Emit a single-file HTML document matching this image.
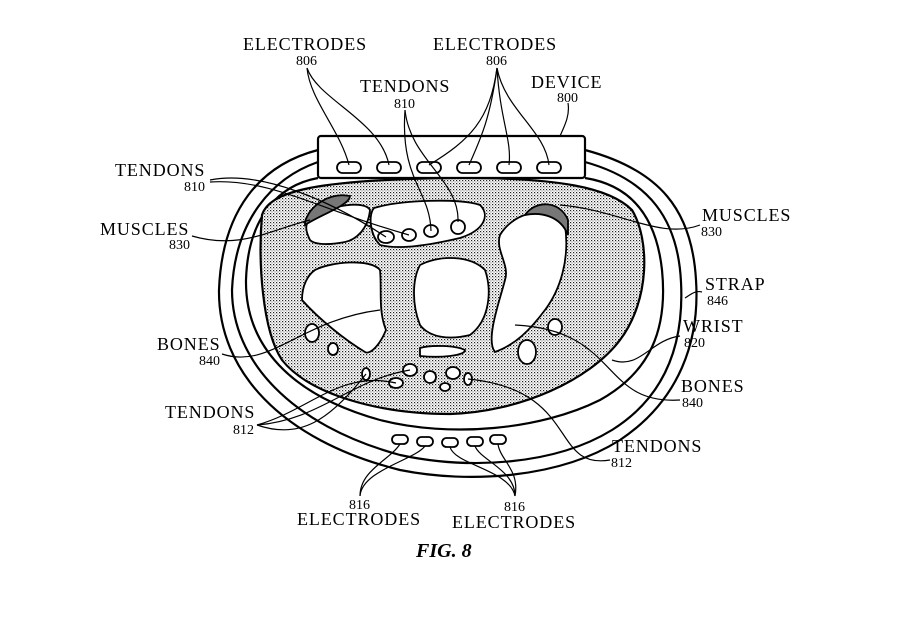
<!DOCTYPE html>
<html><head><meta charset="utf-8"><style>
html,body{margin:0;padding:0;background:#fff;}
svg{display:block;}
text{font-family:"Liberation Serif",serif;fill:#000;}
.w{font-size:18px;letter-spacing:0.9px;}
.n{font-size:14px;}
</style></head><body>
<svg width="905" height="619" viewBox="0 0 905 619" xmlns="http://www.w3.org/2000/svg">
<defs>
<pattern id="st" width="3" height="3" patternUnits="userSpaceOnUse">
<rect width="3" height="3" fill="#fff"/>
<rect x="0" y="0" width="1.2" height="1.2" fill="#222"/>
<rect x="1.5" y="1.5" width="1" height="1" fill="#555"/>
</pattern>
</defs>
<g fill="none" stroke="#000" stroke-width="2.2">
<path d="M318,150 C260,165 222,210 219,290 C218,370 280,440 400,470 C470,484 560,478 620,440 C680,400 700,340 696,280 C692,210 660,170 585,150"/>
<path d="M318,162 C272,178 235,220 232,290 C232,360 290,425 400,455 C470,470 555,465 612,430 C668,395 684,340 681,282 C678,220 650,180 585,162"/>
<path d="M318,178 C280,185 248,215 246,280 C245,345 290,395 380,420 C450,438 540,430 600,400 C650,372 668,330 662,270 C656,215 630,185 585,178"/>
<path fill="url(#st)" d="M262,215 C270,190 320,180 450,178 C560,177 610,188 632,210 C650,240 650,300 620,340 C590,380 520,412 450,414 C380,414 310,395 282,360 C262,330 258,260 262,215 Z"/>
<rect x="318" y="136" width="267" height="42" rx="3" fill="#fff"/>
<g stroke-width="1.8">
<rect x="337" y="162" width="24" height="11" rx="5.5"/>
<rect x="377" y="162" width="24" height="11" rx="5.5"/>
<rect x="417" y="162" width="24" height="11" rx="5.5"/>
<rect x="457" y="162" width="24" height="11" rx="5.5"/>
<rect x="497" y="162" width="24" height="11" rx="5.5"/>
<rect x="537" y="162" width="24" height="11" rx="5.5"/>
<rect x="392" y="435" width="16" height="9" rx="4.5"/>
<rect x="417" y="437" width="16" height="9" rx="4.5"/>
<rect x="442" y="438" width="16" height="9" rx="4.5"/>
<rect x="467" y="437" width="16" height="9" rx="4.5"/>
<rect x="490" y="435" width="16" height="9" rx="4.5"/>
</g>
<g fill="#fff" stroke-width="1.8">
<path d="M374,208 C400,200 460,198 480,205 C490,215 485,230 460,238 C430,245 400,250 380,245 C370,235 368,215 374,208 Z"/>
<path d="M310,218 C330,205 365,200 370,210 C368,230 355,240 345,242 C330,245 315,245 310,240 C305,230 305,225 310,218 Z"/>
<path d="M315,270 C330,262 370,258 380,270 C382,290 378,310 386,330 C380,345 370,355 365,352 C345,340 320,320 302,300 C302,285 308,275 315,270 Z"/>
<path d="M420,265 C440,255 470,255 485,270 C492,290 490,320 470,335 C450,340 430,338 420,325 C412,305 412,280 420,265 Z"/>
<path d="M500,235 C515,210 550,205 565,225 C570,260 560,290 545,310 C530,330 515,345 495,352 C485,340 500,300 505,280 C510,265 495,250 500,235 Z"/>
<path d="M420,348 C430,345 455,345 465,350 C465,356 440,358 420,356 Z"/>
<ellipse cx="312" cy="333" rx="7" ry="9"/>
<ellipse cx="333" cy="349" rx="5" ry="6"/>
<ellipse cx="527" cy="352" rx="9" ry="12"/>
<ellipse cx="555" cy="327" rx="7" ry="8"/>
<ellipse cx="366" cy="374" rx="4" ry="6"/>
<ellipse cx="410" cy="370" rx="7" ry="6"/>
<ellipse cx="396" cy="383" rx="7" ry="5"/>
<ellipse cx="430" cy="377" rx="6" ry="6"/>
<ellipse cx="453" cy="373" rx="7" ry="6"/>
<ellipse cx="445" cy="387" rx="5" ry="4"/>
<ellipse cx="468" cy="379" rx="4" ry="6"/>
<ellipse cx="386" cy="237" rx="8" ry="6"/>
<ellipse cx="409" cy="235" rx="7" ry="6"/>
<ellipse cx="431" cy="231" rx="7" ry="6"/>
<ellipse cx="458" cy="227" rx="7" ry="7"/>
<path d="M305,222 C310,205 330,192 350,196 C350,205 320,215 305,225 Z" fill="#777"/>
<path d="M525,215 C535,200 560,200 568,220 L568,235 C560,215 540,212 525,215 Z" fill="#777"/>
</g>
<g stroke-width="1.2">
<path d="M307,68 C310,100 340,130 349,165"/>
<path d="M307,68 C318,100 380,120 389,165"/>
<path d="M497,68 C490,120 470,140 429,165"/>
<path d="M497,68 C490,120 480,140 469,165"/>
<path d="M497,68 C500,120 512,140 509,165"/>
<path d="M497,68 C505,110 545,130 549,165"/>
<path d="M405,110 C400,180 430,190 431,231"/>
<path d="M405,110 C410,160 460,180 458,222"/>
<path d="M568,103 C570,115 565,125 560,136"/>
<path d="M210,180 C260,170 330,200 386,237"/>
<path d="M210,182 C270,178 320,210 409,235"/>
<path d="M192,236 C240,250 270,230 310,220"/>
<path d="M700,225 C660,240 620,210 560,205"/>
<path d="M702,292 C695,290 690,295 685,298"/>
<path d="M680,336 C650,340 640,370 612,360"/>
<path d="M222,354 C270,370 300,320 380,310"/>
<path d="M680,400 C600,405 620,330 515,325"/>
<path d="M257,425 C310,410 340,370 396,383"/>
<path d="M257,425 C320,420 350,380 410,370"/>
<path d="M257,425 C300,440 330,420 366,374"/>
<path d="M610,460 C550,470 580,390 468,379"/>
<path d="M360,496 C360,470 390,460 400,444"/>
<path d="M360,496 C362,470 415,460 425,446"/>
<path d="M515,496 C510,470 455,465 450,447"/>
<path d="M515,496 C515,470 480,460 475,446"/>
<path d="M515,496 C520,470 500,460 498,444"/>
</g>
</g>
<text class="w" x="243" y="50">ELECTRODES</text><text class="n" x="296" y="65">806</text>
<text class="w" x="433" y="50">ELECTRODES</text><text class="n" x="486" y="65">806</text>
<text class="w" x="360" y="92">TENDONS</text><text class="n" x="394" y="108">810</text>
<text class="w" x="531" y="88">DEVICE</text><text class="n" x="557" y="102">800</text>
<text class="w" x="115" y="176">TENDONS</text><text class="n" x="184" y="191">810</text>
<text class="w" x="100" y="235">MUSCLES</text><text class="n" x="169" y="249">830</text>
<text class="w" x="702" y="221">MUSCLES</text><text class="n" x="701" y="236">830</text>
<text class="w" x="705" y="290">STRAP</text><text class="n" x="707" y="305">846</text>
<text class="w" x="683" y="332">WRIST</text><text class="n" x="684" y="347">820</text>
<text class="w" x="157" y="350">BONES</text><text class="n" x="199" y="365">840</text>
<text class="w" x="681" y="392">BONES</text><text class="n" x="682" y="407">840</text>
<text class="w" x="165" y="418">TENDONS</text><text class="n" x="233" y="434">812</text>
<text class="w" x="612" y="452">TENDONS</text><text class="n" x="611" y="467">812</text>
<text class="n" x="349" y="509">816</text><text class="w" x="297" y="525">ELECTRODES</text>
<text class="n" x="504" y="511">816</text><text class="w" x="452" y="528">ELECTRODES</text>
<text x="416" y="557" style="font-size:20px;font-weight:bold;font-style:italic">FIG. 8</text>
</svg>
</body></html>
